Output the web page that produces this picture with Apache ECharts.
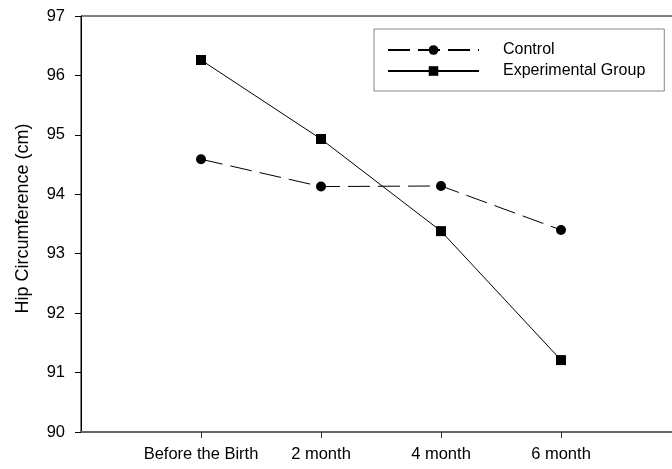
<!DOCTYPE html>
<html>
<head>
<meta charset="utf-8">
<script src="https://cdn.jsdelivr.net/npm/echarts@6/dist/echarts.min.js"></script>
<style>
  html, body { margin: 0; padding: 0; background: #fff; }
  #chart { width: 672px; height: 469px; }
</style>
</head>
<body>
<div id="chart"></div>
<script>
// Time points along the horizontal axis
const categories = ['Before the Birth', '2 month', '4 month', '6 month'];
// Mean hip circumference (cm) per group
const controlValues = [94.59, 94.13, 94.14, 93.40];
const experimentalValues = [96.26, 94.93, 93.38, 91.21];
// Vertical axis ticks
const yTicks = [90, 91, 92, 93, 94, 95, 96, 97];

const positions = categories.map((_, i) => i + 1);
const toPoints = vals => vals.map((v, i) => [positions[i], v]);

const FONT = '"Liberation Sans", Arial, sans-serif';

const chart = echarts.init(document.getElementById('chart'));
chart.setOption({
  animation: false,
  backgroundColor: '#fff',
  textStyle: { fontFamily: FONT },
  grid: {
    left: 81, top: 16, width: 600, bottom: 37,
    outerBoundsMode: 'none',
    show: true, borderColor: '#000', borderWidth: 1,
    backgroundColor: 'transparent'
  },
  legend: {
    orient: 'vertical',
    left: 374, top: 29,
    itemWidth: 91, itemHeight: 12, itemGap: 1,
    padding: [11, 19, 10, 13],
    borderColor: '#888', borderWidth: 1,
    textStyle: {
      fontFamily: FONT, fontSize: 16, color: '#000',
      lineHeight: 20, padding: [0, 0, 0, 19]
    },
    data: ['Control', 'Experimental Group']
  },
  xAxis: {
    type: 'value',
    min: 0, max: 5, interval: 1,
    splitLine: { show: false },
    axisLine: { lineStyle: { color: '#666', width: 2 } },
    axisTick: {
      show: true, inside: false, length: 6,
      customValues: positions,
      lineStyle: { color: '#333', width: 1 }
    },
    axisLabel: {
      customValues: positions,
      margin: 14,
      fontFamily: FONT, fontSize: 16.5, color: '#000',
      formatter: v => categories[Math.round(v) - 1] || ''
    }
  },
  yAxis: {
    type: 'value',
    min: yTicks[0], max: yTicks[yTicks.length - 1], interval: 1,
    name: 'Hip Circumference (cm)',
    nameLocation: 'middle', nameGap: 49,
    nameTextStyle: { fontFamily: FONT, fontSize: 18, color: '#000', padding: [0, 0, 0, 11] },
    splitLine: { show: false },
    axisLine: { lineStyle: { color: '#000', width: 1 } },
    axisTick: { inside: false, length: 6, lineStyle: { color: '#000' } },
    axisLabel: { margin: 16, fontFamily: FONT, fontSize: 16.5, color: '#000' }
  },
  series: [
    {
      name: 'Control',
      type: 'line',
      data: toPoints(controlValues),
      symbol: 'circle', symbolSize: 10,
      itemStyle: { color: '#000' },
      lineStyle: { color: '#000', width: 1, type: [22, 8] }
    },
    {
      name: 'Experimental Group',
      type: 'line',
      data: toPoints(experimentalValues),
      symbol: 'rect', symbolSize: 10,
      itemStyle: { color: '#000' },
      lineStyle: { color: '#000', width: 1, type: 'solid' }
    }
  ]
});
</script>
</body>
</html>
